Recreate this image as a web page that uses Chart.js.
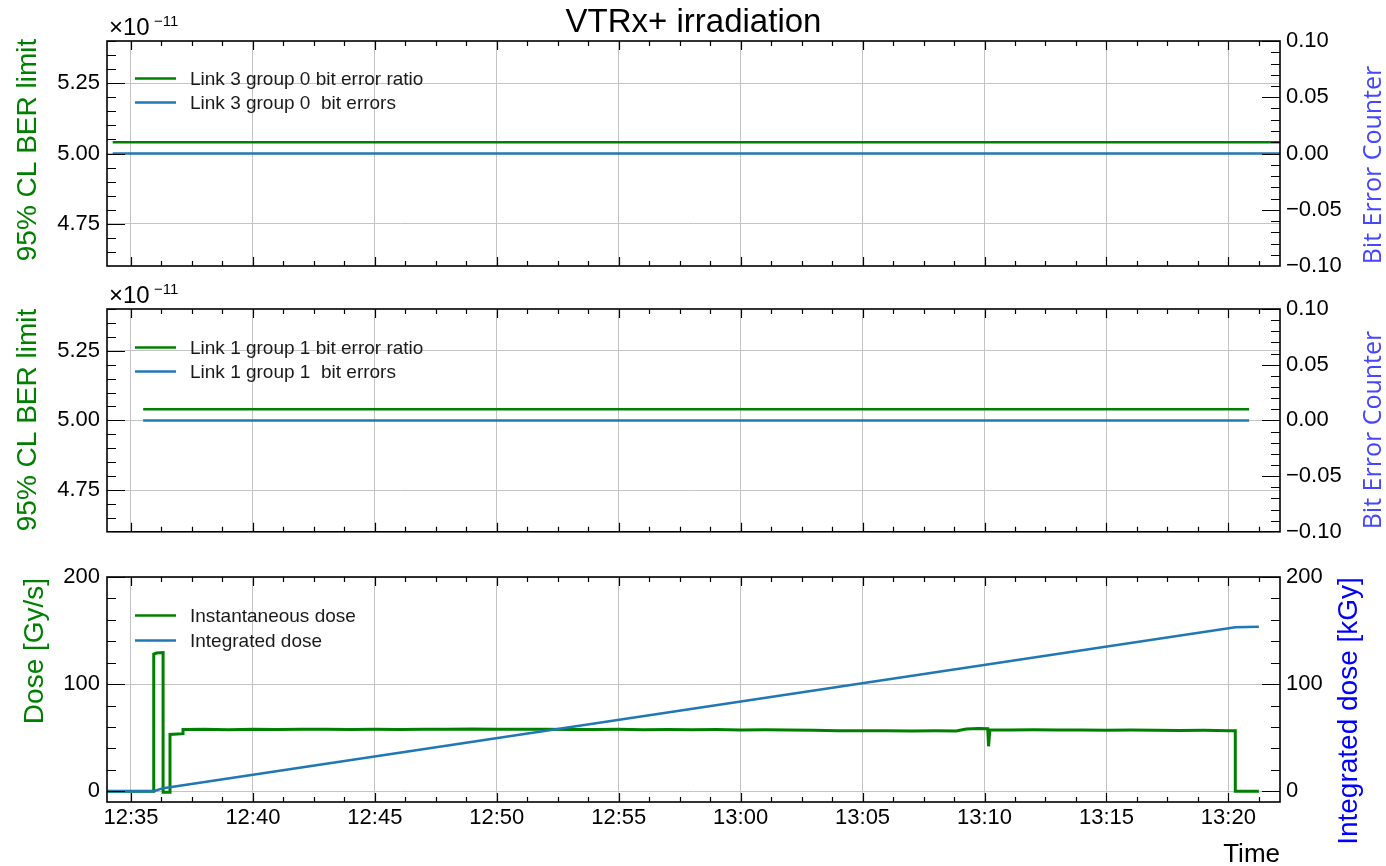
<!DOCTYPE html>
<html>
<head>
<meta charset="utf-8">
<title>VTRx+ irradiation</title>
<script src="https://cdn.jsdelivr.net/npm/chart.js@4.4.1/dist/chart.umd.min.js"></script>
<style>
  body { margin: 0; background: #fff; }
  #wrap { position: relative; width: 1386px; height: 866px; }
  #wrap canvas { position: absolute; left: 0; }
</style>
</head>
<body>
<div id="wrap">
  <canvas id="c1" width="1386" height="290" style="top:0px"></canvas>
  <canvas id="c2" width="1386" height="277" style="top:275px"></canvas>
  <canvas id="c3" width="1386" height="326" style="top:540px"></canvas>
</div>
<script>
// ---- data ----
const xStart = '12:34:01';
const xEnd = '13:22:07';
const timeTicks = ['12:35', '12:40', '12:45', '12:50', '12:55', '13:00', '13:05', '13:10', '13:15', '13:20'];

const berScale = 1e-11;
const berTicks = [4.75, 5.00, 5.25];
const berRange = [4.6, 5.4];
const errTicks = [-0.10, -0.05, 0.00, 0.05, 0.10];
const errRange = [-0.1, 0.1];
const doseTicks = [0, 100, 200];
const doseRange = [-10, 200];

const link3Times = ['12:34:15', '13:22:07'];
const link3Ratio = [5.04e-11, 5.04e-11];
const link3Errors = [0, 0];

const link1Times = ['12:35:30', '13:20:51'];
const link1Ratio = [5.04e-11, 5.04e-11];
const link1Errors = [0, 0];

const doseTimes = [
  '12:34:01', '12:35:56', '12:35:56', '12:36:03', '12:36:19', '12:36:19', '12:36:36', '12:36:36', '12:37:08', '12:37:08',
  '12:38:00', '12:39:00', '12:40:00', '12:41:00', '12:42:00', '12:43:00', '12:44:00', '12:45:00', '12:46:00', '12:47:00',
  '12:48:00', '12:49:00', '12:50:00', '12:51:00', '12:52:00', '12:53:00', '12:54:00', '12:55:00', '12:56:00', '12:57:00',
  '12:58:00', '12:59:00', '13:00:00', '13:01:00', '13:02:00', '13:03:00', '13:04:00', '13:05:00', '13:06:00', '13:07:00',
  '13:08:00', '13:08:50', '13:09:15', '13:09:45', '13:10:08', '13:10:10', '13:10:13', '13:11:00', '13:12:00', '13:13:00',
  '13:14:00', '13:15:00', '13:16:00', '13:17:00', '13:18:00', '13:19:00', '13:20:00', '13:20:17', '13:20:17', '13:21:15'
];
const doseRate = [
  0, 0, 128, 129, 129.5, -1, -1, 53, 53.8, 57.6,
  57.8, 57.5, 57.9, 57.6, 57.8, 58.0, 57.7, 57.9, 57.6, 58.0,
  57.8, 58.1, 57.8, 57.9, 58.0, 57.7, 57.6, 57.8, 57.5, 57.7,
  57.4, 57.6, 57.3, 57.5, 57.2, 57.0, 56.6, 56.4, 56.5, 56.2,
  56.4, 56.3, 58.2, 58.6, 58.4, 42, 57.5, 57.3, 57.4, 57.1,
  57.2, 57.0, 57.1, 56.9, 56.8, 56.9, 56.6, 56.5, 0, 0
];

const intTimes = ['12:34:01', '12:35:56', '12:36:19', '13:20:17', '13:21:15'];
const intDose = [0, 0, 2.9, 153, 153.5];

// ---- helpers ----
const GREEN = 'green';
const BLUE = '#1f77b4';
const gridColor = '#c4c4c4';
const FONT = 'Liberation Sans';

Chart.defaults.font.family = FONT;
Chart.defaults.color = '#000';

function toSec(t) {
  const p = t.split(':').map(Number);
  return p[0] * 3600 + p[1] * 60 + (p[2] || 0);
}
function pts(times, vals) {
  return times.map((t, i) => ({ x: toSec(t), y: vals[i] }));
}
function minus(v) {
  return (v < 0 ? '\u2212' : '') + Math.abs(v).toFixed(2);
}
function stepsFrom(min, max, anchor, step) {
  const out = [];
  let k = Math.ceil((min - anchor) / step - 1e-6);
  for (; anchor + k * step <= max + Math.abs(step) * 1e-6; k++) out.push(anchor + k * step);
  return out;
}

// inward ticks on all four sides + black frame
const frameTicks = {
  id: 'frameTicks',
  afterDatasetsDraw(chart, args, o) {
    const { ctx, chartArea: a, scales } = chart;
    ctx.save();
    ctx.strokeStyle = '#000';
    ctx.lineWidth = 1.2;
    ctx.beginPath();
    const mark = (scale, side, values, len) => values.forEach(v => {
      const p = Math.round(scale.getPixelForValue(v)) + 0.5;
      if (side === 'bottom' || side === 'top') {
        if (p < a.left || p > a.right) return;
        const y0 = side === 'bottom' ? a.bottom : a.top;
        const d = side === 'bottom' ? -len : len;
        ctx.moveTo(p, y0); ctx.lineTo(p, y0 + d);
      } else {
        if (p < a.top || p > a.bottom) return;
        const x0 = side === 'left' ? a.left : a.right;
        const d = side === 'left' ? len : -len;
        ctx.moveTo(x0, p); ctx.lineTo(x0 + d, p);
      }
    });
    for (const s of o.sets || []) {
      const scale = scales[s.scale];
      const sides = s.scale === 'x' ? ['bottom', 'top'] : [s.scale === 'y' ? 'left' : 'right'];
      const minor = stepsFrom(scale.min, scale.max, s.anchor, s.minor);
      const major = scale.ticks.map(t => t.value);
      sides.forEach(side => {
        mark(scale, side, minor, s.minorLen);
        mark(scale, side, major, s.majorLen);
      });
    }
    ctx.stroke();
    ctx.lineWidth = 1.6;
    ctx.strokeRect(a.left, a.top, a.right - a.left, a.bottom - a.top);
    ctx.restore();
  }
};

// legend in the upper left of the plot area
const insideLegend = {
  id: 'insideLegend',
  afterDatasetsDraw(chart, args, o) {
    const { ctx, chartArea: a } = chart;
    ctx.save();
    ctx.font = '19px "' + FONT + '"';
    ctx.textBaseline = 'middle';
    ctx.textAlign = 'left';
    chart.data.datasets.forEach((ds, i) => {
      const y = Math.round(a.top + o.top + i * o.gap) + 0.5;
      ctx.strokeStyle = ds.borderColor;
      ctx.lineWidth = 2.5;
      ctx.beginPath();
      ctx.moveTo(a.left + 28, y);
      ctx.lineTo(a.left + 69, y);
      ctx.stroke();
      ctx.fillStyle = '#1a1a1a';
      ctx.fillText(ds.label, a.left + 83, y + 1);
    });
    ctx.restore();
  }
};

// free text: titles, axis labels, offset text
const texts = {
  id: 'texts',
  afterDraw(chart, args, o) {
    const ctx = chart.ctx;
    (o.items || []).forEach(t => {
      ctx.save();
      ctx.translate(t.x, t.y);
      ctx.rotate(t.rot || 0);
      ctx.font = t.font;
      ctx.fillStyle = t.color || '#000';
      ctx.textAlign = t.align || 'center';
      ctx.textBaseline = 'alphabetic';
      ctx.fillText(t.text, 0, 0);
      ctx.restore();
    });
  }
};

Chart.register(frameTicks, insideLegend, texts);

function timeAxis(showLabels, height) {
  return {
    type: 'linear',
    position: 'bottom',
    min: toSec(xStart),
    max: toSec(xEnd),
    afterBuildTicks: s => { s.ticks = timeTicks.map(t => ({ value: toSec(t) })); },
    afterFit: s => { s.height = height; },
    ticks: {
      display: showLabels, autoSkip: false, maxRotation: 0, padding: 3,
      font: { size: 22 }, color: '#000',
      callback: (v, i) => timeTicks[i]
    },
    grid: { color: gridColor, lineWidth: 1, drawTicks: false },
    border: { display: false }
  };
}

function valueAxis(position, range, scale, tickList, fmt, grid) {
  return {
    type: 'linear',
    position: position,
    min: range[0] * scale,
    max: range[1] * scale,
    afterBuildTicks: s => { s.ticks = tickList.map(v => ({ value: v * scale })); },
    afterFit: s => { s.width = position === 'left' ? 107 : 106; },
    ticks: {
      autoSkip: false, padding: position === 'left' ? 7 : 6,
      font: { size: 22 }, color: '#000',
      callback: (v, i) => fmt(tickList[i])
    },
    grid: { display: grid, color: gridColor, lineWidth: 1, drawTicks: false },
    border: { display: false }
  };
}

function lineSet(label, data, color, axis, order, width) {
  return {
    label: label, data: data, yAxisID: axis, order: order,
    borderColor: color, backgroundColor: color,
    borderWidth: width, pointRadius: 0, tension: 0, fill: false
  };
}

function baseOptions(padTop, scales, legendTop, legendGap, items, tickSets) {
  return {
    responsive: false,
    animation: false,
    devicePixelRatio: 1,
    layout: { padding: { top: padTop, left: 0, right: 0, bottom: 0 } },
    scales: scales,
    plugins: {
      legend: { display: false },
      tooltip: { enabled: false },
      insideLegend: { top: legendTop, gap: legendGap },
      texts: { items: items },
      frameTicks: { sets: tickSets }
    }
  };
}

const xTickSet = { scale: 'x', anchor: toSec(timeTicks[0]), minor: 75, majorLen: 9, minorLen: 5 };
const berTickSet = { scale: 'y', anchor: 5.00 * berScale, minor: 0.05 * berScale, majorLen: 18, minorLen: 9 };
const errTickSet = { scale: 'y1', anchor: 0, minor: 0.01, majorLen: 18, minorLen: 9 };
const doseTickSet = { scale: 'y', anchor: 0, minor: 20, majorLen: 18, minorLen: 9 };
const intTickSet = { scale: 'y1', anchor: 0, minor: 20, majorLen: 18, minorLen: 9 };

const f = (size, fam) => size + 'px "' + (fam || FONT) + '"';
const UP = -Math.PI / 2;

// ---- panel 1 ----
new Chart(document.getElementById('c1'), {
  type: 'line',
  data: {
    datasets: [
      lineSet('Link 3 group 0 bit error ratio', pts(link3Times, link3Ratio), GREEN, 'y', 1, 2.5),
      lineSet('Link 3 group 0  bit errors', pts(link3Times, link3Errors), BLUE, 'y1', 0, 2.5)
    ]
  },
  options: baseOptions(41, {
    x: timeAxis(false, 24),
    y: valueAxis('left', berRange, berScale, berTicks, v => v.toFixed(2), true),
    y1: valueAxis('right', errRange, 1, errTicks, minus, false)
  }, 37, 24, [
    { text: 'VTRx+ irradiation', x: 693.5, y: 32, font: f(33) },
    { text: '\u00d710', x: 109, y: 35, font: f(24), align: 'left' },
    { text: '\u221211', x: 154, y: 26, font: f(15), align: 'left' },
    { text: '95% CL BER limit', x: 36, y: 150, rot: UP, font: f(28), color: GREEN },
    { text: 'Bit Error Counter', x: 1381, y: 165, rot: UP, font: f(25, 'Open Sans'), color: '#4646ff' }
  ], [xTickSet, berTickSet, errTickSet])
});

// ---- panel 2 ----
new Chart(document.getElementById('c2'), {
  type: 'line',
  data: {
    datasets: [
      lineSet('Link 1 group 1 bit error ratio', pts(link1Times, link1Ratio), GREEN, 'y', 1, 2.5),
      lineSet('Link 1 group 1  bit errors', pts(link1Times, link1Errors), BLUE, 'y1', 0, 2.5)
    ]
  },
  options: baseOptions(34, {
    x: timeAxis(false, 20),
    y: valueAxis('left', berRange, berScale, berTicks, v => v.toFixed(2), true),
    y1: valueAxis('right', errRange, 1, errTicks, minus, false)
  }, 38, 24, [
    { text: '\u00d710', x: 109, y: 28, font: f(24), align: 'left' },
    { text: '\u221211', x: 154, y: 19, font: f(15), align: 'left' },
    { text: '95% CL BER limit', x: 36, y: 145, rot: UP, font: f(28), color: GREEN },
    { text: 'Bit Error Counter', x: 1381, y: 155, rot: UP, font: f(25, 'Open Sans'), color: '#4646ff' }
  ], [xTickSet, berTickSet, errTickSet])
});

// ---- panel 3 ----
new Chart(document.getElementById('c3'), {
  type: 'line',
  data: {
    datasets: [
      lineSet('Instantaneous dose', pts(doseTimes, doseRate), GREEN, 'y', 1, 3),
      lineSet('Integrated dose', pts(intTimes, intDose), BLUE, 'y1', 0, 2.5)
    ]
  },
  options: baseOptions(37, {
    x: timeAxis(true, 64),
    y: valueAxis('left', doseRange, 1, doseTicks, v => String(v), true),
    y1: valueAxis('right', doseRange, 1, doseTicks, v => String(v), false)
  }, 38, 25, [
    { text: 'Dose [Gy/s]', x: 43, y: 111, rot: UP, font: f(28), color: GREEN },
    { text: 'Integrated dose [kGy]', x: 1357, y: 171, rot: UP, font: f(28), color: '#0000ff' },
    { text: 'Time', x: 1280, y: 322, font: f(26), align: 'right' }
  ], [xTickSet, doseTickSet, intTickSet])
});
</script>
</body>
</html>
